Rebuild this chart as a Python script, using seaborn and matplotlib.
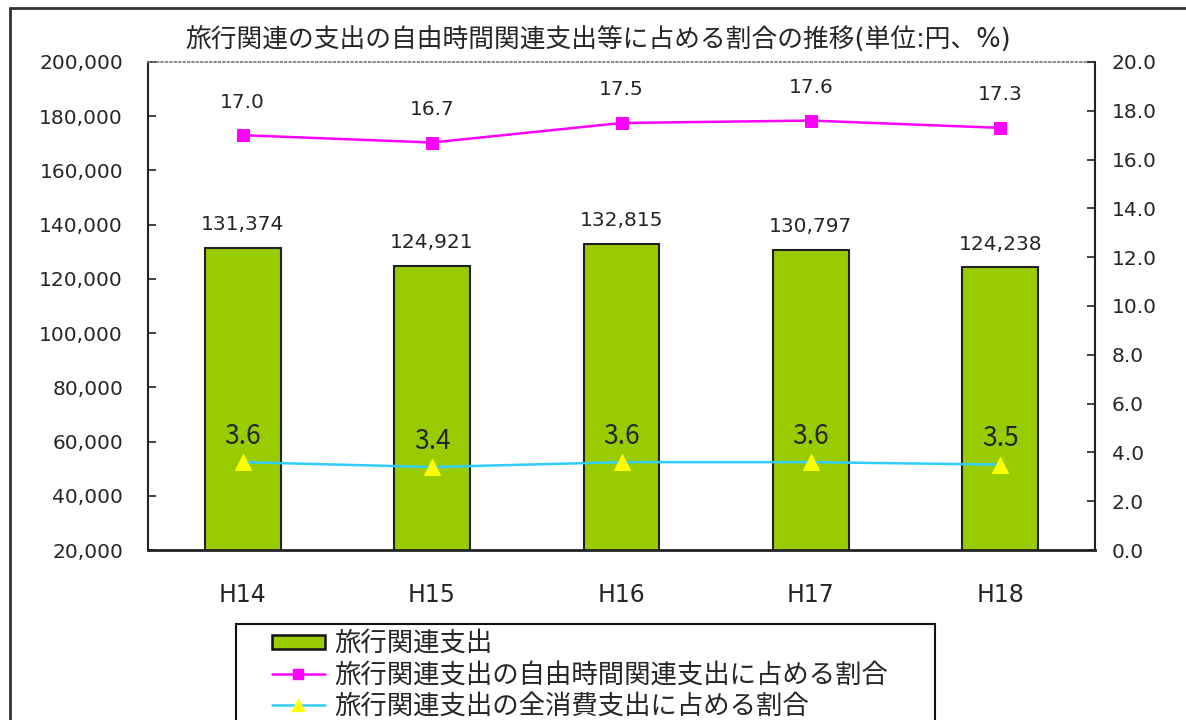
import numpy as np
import pandas as pd
import matplotlib
matplotlib.use("Agg")
import matplotlib.pyplot as plt
from matplotlib.lines import Line2D
from matplotlib.patches import Patch, Rectangle
import seaborn as sns

# data
years = ["H14", "H15", "H16", "H17", "H18"]
travel_spend = [131374, 124921, 132815, 130797, 124238]
share_leisure = [17.0, 16.7, 17.5, 17.6, 17.3]
share_total = [3.6, 3.4, 3.6, 3.6, 3.5]

title = "旅行関連の支出の自由時間関連支出等に占める割合の推移(単位:円、%)"
lbl_bar = "旅行関連支出"
lbl_leisure = "旅行関連支出の自由時間関連支出に占める割合"
lbl_total = "旅行関連支出の全消費支出に占める割合"

sns.set_style("white")
plt.rcParams["font.family"] = ["DejaVu Sans", "Noto Sans CJK JP"]
CJK = ["Noto Sans CJK JP", "DejaVu Sans"]

W, H = 1186, 720
fig = plt.figure(figsize=(W / 100, H / 100), dpi=100)
ax = fig.add_axes([148 / W, 1 - 550 / H, (1095 - 148) / W, (550 - 62) / H])

df = pd.DataFrame({"year": years, "spend": travel_spend})
sns.barplot(data=df, x="year", y="spend", ax=ax, color="#99CC00",
            width=0.4, edgecolor="#222222", linewidth=1.5, saturation=1)
ax.set_ylim(20000, 200000)
ax.set_yticks(np.arange(20000, 200001, 20000))
ax.set_yticklabels([f"{v:,}" for v in range(20000, 200001, 20000)])
ax.set_xlim(-0.5, len(years) - 0.5)
ax.set_xlabel("")
ax.set_ylabel("")
ax.tick_params(axis="x", length=0, pad=24, labelsize=17)
ax.set_xticks(np.arange(len(years) - 1) + 0.5, minor=True)
ax.tick_params(axis="x", which="minor", direction="in", length=7, width=1.2, color="#222222")
ax.tick_params(axis="y", direction="in", length=6, width=1.2, color="#222222",
               pad=18, labelsize=14.5, left=True)

for i, v in enumerate(travel_spend):
    ax.annotate(f"{v:,}", (i, v), xytext=(0, 10), textcoords="offset points",
                ha="center", va="bottom", fontsize=14.5)

ax2 = ax.twinx()
xs = np.arange(len(years))
sns.lineplot(x=xs, y=share_leisure, ax=ax2, color="#FF00FF", lw=1.8,
             marker="s", markersize=9, markeredgecolor="#FF00FF", markerfacecolor="#FF00FF")
sns.lineplot(x=xs, y=share_total, ax=ax2, color="#33CCFF", lw=1.8,
             marker="^", markersize=11, markeredgecolor="#FFFF00", markerfacecolor="#FFFF00")
ax2.set_ylim(0, 20)
ax2.set_yticks(np.arange(0, 20.1, 2))
ax2.set_yticklabels([f"{v:.1f}" for v in np.arange(0, 20.1, 2)])
ax2.tick_params(axis="y", direction="in", length=6, width=1.2, color="#222222",
                pad=12, labelsize=14.5, right=True)

for i, v in enumerate(share_leisure):
    ax2.annotate(f"{v:.1f}", (i, v), xytext=(0, 17), textcoords="offset points",
                 ha="center", va="bottom", fontsize=14.5)
for i, v in enumerate(share_total):
    ax2.annotate(f"{v:.1f}", (i, v), xytext=(0, 9), textcoords="offset points",
                 ha="center", va="bottom", fontsize=19, family=CJK)

for a in (ax, ax2):
    a.grid(False)
    for s in a.spines.values():
        s.set_visible(False)
ax.spines["left"].set_visible(True)
ax.spines["bottom"].set_visible(True)
ax.spines["top"].set_visible(True)
ax.spines["left"].set_color("#222222")
ax.spines["bottom"].set_color("#222222")
ax.spines["left"].set_linewidth(1.5)
ax.spines["bottom"].set_linewidth(2)
ax.spines["top"].set_color("#777777")
ax.spines["top"].set_linestyle(":")
ax.spines["top"].set_linewidth(1.2)
ax2.spines["right"].set_visible(True)
ax2.spines["right"].set_color("#222222")
ax2.spines["right"].set_linewidth(1.5)

fig.text(598 / W, 1 - 40 / H, title, ha="center", va="center", fontsize=18.5)

# outer frame of the original picture
fig.add_artist(Line2D([10 / W, 10 / W], [0, 1 - 8 / H], color="#333333", lw=2))
fig.add_artist(Line2D([10 / W, 1], [1 - 8 / H, 1 - 8 / H], color="#333333", lw=2))

# legend box (runs off the bottom edge like the original)
fig.add_artist(Rectangle((236 / W, -0.05), (935 - 236) / W, 0.05 + (720 - 624) / H,
                         transform=fig.transFigure, facecolor="white",
                         edgecolor="#111111", lw=1.5, zorder=3))
handles = [
    Patch(facecolor="#99CC00", edgecolor="#111111", linewidth=1.8),
    Line2D([], [], color="#FF00FF", lw=1.8, marker="s", markersize=7,
           markerfacecolor="#FF00FF", markeredgecolor="#FF00FF"),
    Line2D([], [], color="#33CCFF", lw=1.8, marker="^", markersize=9,
           markerfacecolor="#FFFF00", markeredgecolor="#FFFF00"),
]
leg = fig.legend(handles, [lbl_bar, lbl_leisure, lbl_total],
                 loc="upper left", bbox_to_anchor=(272 / W, 1 - 630 / H),
                 frameon=False, prop={"family": CJK, "size": 19},
                 handlelength=2.0, handleheight=0.45, handletextpad=0.35,
                 labelspacing=0.16, borderpad=0, borderaxespad=0)
leg.set_zorder(4)

fig.savefig("out.png", dpi=100)
